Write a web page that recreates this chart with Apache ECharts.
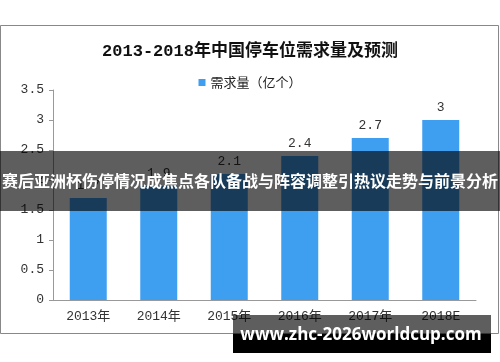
<!DOCTYPE html>
<html>
<head>
<meta charset="utf-8">
<script src="https://cdn.jsdelivr.net/npm/echarts@6/dist/echarts.min.js"></script>
<style>html,body{margin:0;padding:0;background:#fff}#c{width:500px;height:362px}</style>
</head>
<body>
<div id="c"></div>
<script>
const categories = ['2013年', '2014年', '2015年', '2016年', '2017年', '2018E'];
const demand = [1.7, 1.9, 2.1, 2.4, 2.7, 3];
const yTickLabels = ['0', '0.5', '1', '1.5', '2', '2.5', '3', '3.5'];
const titleText = '2013-2018年中国停车位需求量及预测';
const seriesName = '需求量（亿个）';
const bannerText = '赛后亚洲杯伤停情况成焦点各队备战与阵容调整引热议走势与前景分析';
const siteText = 'www.zhc-2026worldcup.com';

const monoCJK = '"Liberation Mono", "Noto Sans CJK SC", monospace';
const chart = echarts.init(document.getElementById('c'), null, {renderer: 'canvas'});
chart.setOption({
  animation: false,
  backgroundColor: '#fff',
  title: {
    text: titleText, left: 'center', top: 38,
    textStyle: {fontFamily: monoCJK, fontSize: 17, fontWeight: 'bold', color: '#111'}
  },
  legend: {
    data: [seriesName], top: 71, left: 'center',
    icon: 'rect', itemWidth: 7, itemHeight: 7, itemGap: 4,
    textStyle: {fontFamily: '"Noto Sans CJK SC"', fontSize: 13, color: '#222'}
  },
  grid: {left: 53, right: 24, top: 90, bottom: 62},
  xAxis: {
    type: 'category', data: categories,
    axisLine: {lineStyle: {color: '#999'}},
    axisTick: {length: 5, lineStyle: {color: '#999'}},
    axisLabel: {fontFamily: monoCJK, fontSize: 13, color: '#333', margin: 10}
  },
  yAxis: {
    type: 'value', min: 0, max: 3.5, interval: 0.5,
    splitLine: {show: false},
    axisLine: {show: true, lineStyle: {color: '#999'}},
    axisTick: {show: true, length: 4, lineStyle: {color: '#999'}},
    axisLabel: {fontFamily: monoCJK, fontSize: 13, color: '#333', margin: 9,
      formatter: v => { const i = Math.round(v / 0.5); return yTickLabels[i] !== undefined ? yTickLabels[i] : String(v); }}
  },
  series: [{
    name: seriesName, type: 'bar', data: demand, barWidth: 37,
    itemStyle: {color: '#3e9ff0'},
    label: {show: true, position: 'top', distance: 6, fontFamily: monoCJK, fontSize: 13, color: '#333'}
  }],
  graphic: [
    {type: 'rect', z: 100, shape: {x: 0.5, y: 25.5, width: 498, height: 308}, style: {fill: 'none', stroke: '#888', lineWidth: 1}},
    {type: 'rect', z: 101, shape: {x: 0, y: 151, width: 500, height: 60}, style: {fill: 'rgba(0,0,0,0.63)'}},
    {type: 'text', z: 102, x: 250, y: 181, style: {text: bannerText, fill: '#fff', font: 'bold 16px "Noto Sans CJK SC"', align: 'center', verticalAlign: 'middle'}},
    {type: 'rect', z: 101, shape: {x: 233, y: 315, width: 258, height: 19}, style: {fill: 'rgba(0,0,0,0.63)'}},
    {type: 'rect', z: 101, shape: {x: 233, y: 334, width: 258, height: 19}, style: {fill: '#000'}},
    {type: 'text', z: 102, x: 361, y: 335, style: {text: siteText, fill: '#fff', font: 'bold 17px "Open Sans"', align: 'center', verticalAlign: 'middle'}}
  ]
});
</script>
</body>
</html>
